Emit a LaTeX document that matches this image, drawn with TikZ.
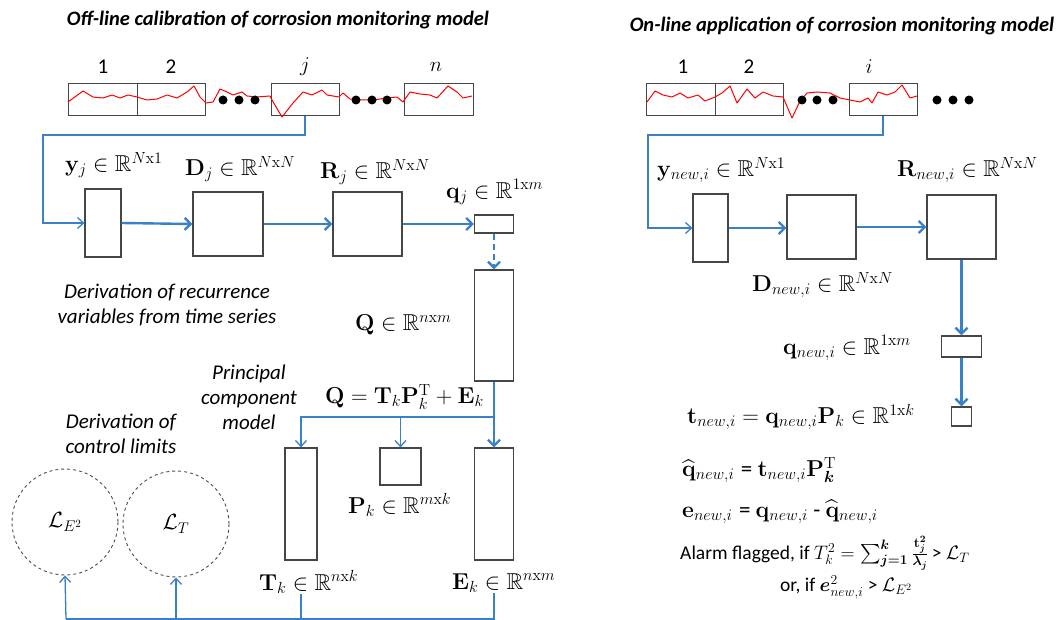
\RequirePackage{fix-cm}
\documentclass[tikz,border=0pt]{standalone}
\usepackage{amsmath,amssymb}
\usepackage[no-math]{fontspec}
\setmainfont{Carlito}
\usetikzlibrary{arrows.meta}
\definecolor{flowblue}{RGB}{58,128,200}
\definecolor{boxgray}{RGB}{70,70,70}

\begin{document}
\begin{tikzpicture}[
        x=1pt, y=-1pt,
        mat/.style={draw=boxgray, line width=1.2pt, inner sep=0pt},
        seg/.style={draw=boxgray, line width=1pt, inner sep=0pt, minimum height=32pt},
        series/.style={red, line width=1pt, line join=round},
        dot/.style={circle, fill=black, inner sep=0pt, minimum size=9pt},
        flow/.style={flowblue, line width=2.4pt, -{Straight Barb[length=6pt,width=12pt]}},
        feed/.style={flowblue, line width=1.3pt},
        feedarrow/.style={feed, -{Straight Barb[length=6pt,width=11pt]}},
        limit/.style={circle, draw=black!70, dashed, line width=0.9pt, minimum size=106pt, inner sep=0pt},
        title/.style={font=\fontsize{20.5}{24}\selectfont\bfseries\itshape},
        note/.style={font=\fontsize{21}{25}\selectfont\itshape, align=center},
        var/.style={font=\fontsize{23}{26}\selectfont, inner sep=0pt, anchor=west},
        idx/.style={font=\fontsize{21}{24}\selectfont, inner sep=0pt},
    ]
    \useasboundingbox (0,0) rectangle (1064,620);

    % Titles
    \node[title] (offtitle) at (278,20) {Off-line calibration of corrosion monitoring model};
    \node[title] (ontitle) at (842,26) {On-line application of corrosion monitoring model};

    % Off-line time series
    \node[seg, minimum width=69pt] (s1) at (102.5,100) {};
    \node[seg, minimum width=68pt] (s2) at (171,100) {};
    \node[seg, minimum width=68pt] (sj) at (305,100) {};
    \node[seg, minimum width=69pt] (sn) at (438.5,100) {};
    \node[idx] (l1) at (103,67) {1};
    \node[idx] (l2) at (171,67) {2};
    \node[idx] (lj) at (305,67) {$j$};
    \node[idx] (ln) at (436,67) {$n$};
    \draw[series] plot coordinates {(68,102) (83,91) (93,97) (103,98) (112,95) (120,98) (128,95) (137,97)
        (147,100) (157,99) (167,95) (177,98) (187,92) (194,86) (200,97) (206,103) (213,102) (220,89)
        (227,92) (233,95) (242,92) (247,96) (257,97) (270,96) (272,100) (282,117) (293,103) (303,92)
        (312,95) (322,90) (327,95) (339,97) (343,93) (350,99) (360,100) (373,100) (387,98) (397,97)
        (403,102) (410,92) (420,94) (430,95) (437,98) (448,86) (457,92) (463,98) (472,96)};
    \foreach \x in {223,239,255,356,372,387} {
        \node[dot] at (\x,100) {};
    }

    % On-line time series
    \node[seg, minimum width=69pt] (r1) at (680.5,100) {};
    \node[seg, minimum width=68pt] (r2) at (749,100) {};
    \node[seg, minimum width=68pt] (ri) at (883,100) {};
    \node[idx] (m1) at (683,67) {1};
    \node[idx] (m2) at (749,67) {2};
    \node[idx] (mi) at (869,67) {$i$};
    \draw[series] plot coordinates {(647,102) (655,91) (663,95) (672,97) (680,93) (688,98) (698,95)
        (705,101) (715,97) (722,93) (730,86) (737,103) (747,89) (755,98) (763,92) (773,96) (783,97)
        (792,118) (800,101) (807,93) (817,92) (830,93) (840,98) (850,100) (860,102) (868,98) (872,103)
        (878,92) (887,95) (895,92) (902,85) (910,98) (917,96)};
    \foreach \x in {802,817,833,937,953,969} {
        \node[dot] at (\x,100) {};
    }

    % Off-line recurrence chain
    \node[mat, minimum width=36pt, minimum height=68pt] (yj) at (103,223) {};
    \node[mat, minimum width=70pt, minimum height=64pt] (Dj) at (228,224) {};
    \node[mat, minimum width=69pt, minimum height=64pt] (Rj) at (367.5,224) {};
    \node[mat, minimum width=39pt, minimum height=18pt] (qj) at (494,224) {};
    \node[var] (yjlab) at (65,165) {$\mathbf{y}_j \in \mathbb{R}^{N\mathrm{x}1}$};
    \node[var] (Djlab) at (185,169) {$\mathbf{D}_j \in \mathbb{R}^{N\mathrm{x}N}$};
    \node[var] (Rjlab) at (320,172) {$\mathbf{R}_j \in \mathbb{R}^{N\mathrm{x}N}$};
    \node[var] (qjlab) at (446,192) {$\mathbf{q}_j \in \mathbb{R}^{1\mathrm{x}m}$};
    \node[note] (recnote) at (167,305) {Derivation of recurrence\\variables from time series};

    \coordinate (offturn) at (43,135);
    \draw[feedarrow] (sj.south) |- (offturn) |- (yj.west);
    \draw[flow] (yj.east) -- (Dj.west);
    \draw[flow] (Dj.east) -- (Rj.west);
    \draw[flow] (Rj.east) -- (qj.west);

    % Principal component model
    \node[mat, minimum width=39pt, minimum height=111pt] (Q) at (494,325.5) {};
    \node[mat, minimum width=32pt, minimum height=112pt] (Tk) at (301,504) {};
    \node[mat, minimum width=41pt, minimum height=37pt] (Pk) at (400.5,466.5) {};
    \node[mat, minimum width=39pt, minimum height=112pt] (Ek) at (494,504) {};
    \node[var] (Qlab) at (355,325) {$\mathbf{Q} \in \mathbb{R}^{n\mathrm{x}m}$};
    \node[var] (pcaeq) at (325,397) {$\mathbf{Q} = \mathbf{T}_k\mathbf{P}_k^{\mathrm{T}} + \mathbf{E}_k$};
    \node[var] (Pklab) at (348,505) {$\mathbf{P}_k \in \mathbb{R}^{m\mathrm{x}k}$};
    \node[var] (Tklab) at (259,582) {$\mathbf{T}_k \in \mathbb{R}^{n\mathrm{x}k}$};
    \node[var] (Eklab) at (452,583) {$\mathbf{E}_k \in \mathbb{R}^{n\mathrm{x}m}$};
    \node[note] (pcanote) at (249,397) {Principal\\component\\model};

    \draw[flow, dash pattern=on 6pt off 4pt] (qj.south) -- (Q.north);
    \draw[flow] (Q.south) -- (Ek.north);
    \coordinate (split) at (494,417);
    \draw[feedarrow] (split) -| (Tk.north);
    \draw[feedarrow] (split -| Pk.north) -- (Pk.north);

    % Control limits
    \node[note] (limnote) at (121,434) {Derivation of\\control limits};
    \node[limit] (LE) at (65,522) {\fontsize{22}{24}\selectfont$\mathcal{L}_{E^2}$};
    \node[limit] (LT) at (176,524) {\fontsize{22}{24}\selectfont$\mathcal{L}_T$};
    \coordinate (bottom) at (66,619);
    \draw[feed] (Eklab.south -| Ek.south) |- (bottom);
    \draw[feed] (Tklab.south -| Tk.south) -- (Tk.south |- bottom);
    \draw[feedarrow] (bottom) -- (LE.south);
    \draw[feedarrow] (LT.south |- bottom) -- (LT.south);

    % On-line chain
    \node[mat, minimum width=35pt, minimum height=68pt] (ynew) at (710.5,228) {};
    \node[mat, minimum width=69pt, minimum height=64pt] (Dnew) at (821.5,227) {};
    \node[mat, minimum width=69pt, minimum height=64pt] (Rnew) at (961.5,227) {};
    \node[mat, minimum width=40pt, minimum height=21pt] (qnew) at (961.5,346.5) {};
    \node[mat, minimum width=20pt, minimum height=19pt] (tnew) at (961.5,416.5) {};
    \node[var] (ynewlab) at (657,170) {$\mathbf{y}_{new,i} \in \mathbb{R}^{N\mathrm{x}1}$};
    \node[var] (Dnewlab) at (752,285) {$\mathbf{D}_{new,i} \in \mathbb{R}^{N\mathrm{x}N}$};
    \node[var] (Rnewlab) at (897,170) {$\mathbf{R}_{new,i} \in \mathbb{R}^{N\mathrm{x}N}$};
    \node[var] (qnewlab) at (783,348) {$\mathbf{q}_{new,i} \in \mathbb{R}^{1\mathrm{x}m}$};
    \node[var] (tnewlab) at (687,417) {$\mathbf{t}_{new,i} = \mathbf{q}_{new,i}\mathbf{P}_k \in \mathbb{R}^{1\mathrm{x}k}$};
    \node[var] (qhat) at (682,470) {$\widehat{\mathbf{q}}_{new,i}$\;= $\mathbf{t}_{new,i}\mathbf{P}_{\boldsymbol{k}}^{\mathrm{T}}$};
    \node[var] (enew) at (682,512) {$\mathbf{e}_{new,i}$\;= $\mathbf{q}_{new,i}$ - $\widehat{\mathbf{q}}_{new,i}$};
    \node[var, font=\fontsize{19.5}{22}\selectfont] (alarm) at (680,553)
        {Alarm flagged, if $T_k^2 = \sum_{\boldsymbol{j=1}}^{\boldsymbol{k}} \frac{\mathbf{t}_{\boldsymbol{j}}^{\mathbf{2}}}{\boldsymbol{\lambda_j}}$\,> $\mathcal{L}_T$};
    \node[var, font=\fontsize{19.5}{22}\selectfont] (alarm2) at (780,587)
        {or, if $\boldsymbol{e}_{new,i}^2$ > $\mathcal{L}_{E^2}$};

    \coordinate (onturn) at (648,135);
    \draw[feedarrow] (ri.south) |- (onturn) |- (ynew.west);
    \draw[flow] (ynew.east) -- (ynew.east -| Dnew.west);
    \draw[flow] (Dnew.east) -- (Rnew.west);
    \draw[flow] (Rnew.south) -- (qnew.north);
    \draw[flow] (qnew.south) -- (tnew.north);

\end{tikzpicture}
\end{document}
